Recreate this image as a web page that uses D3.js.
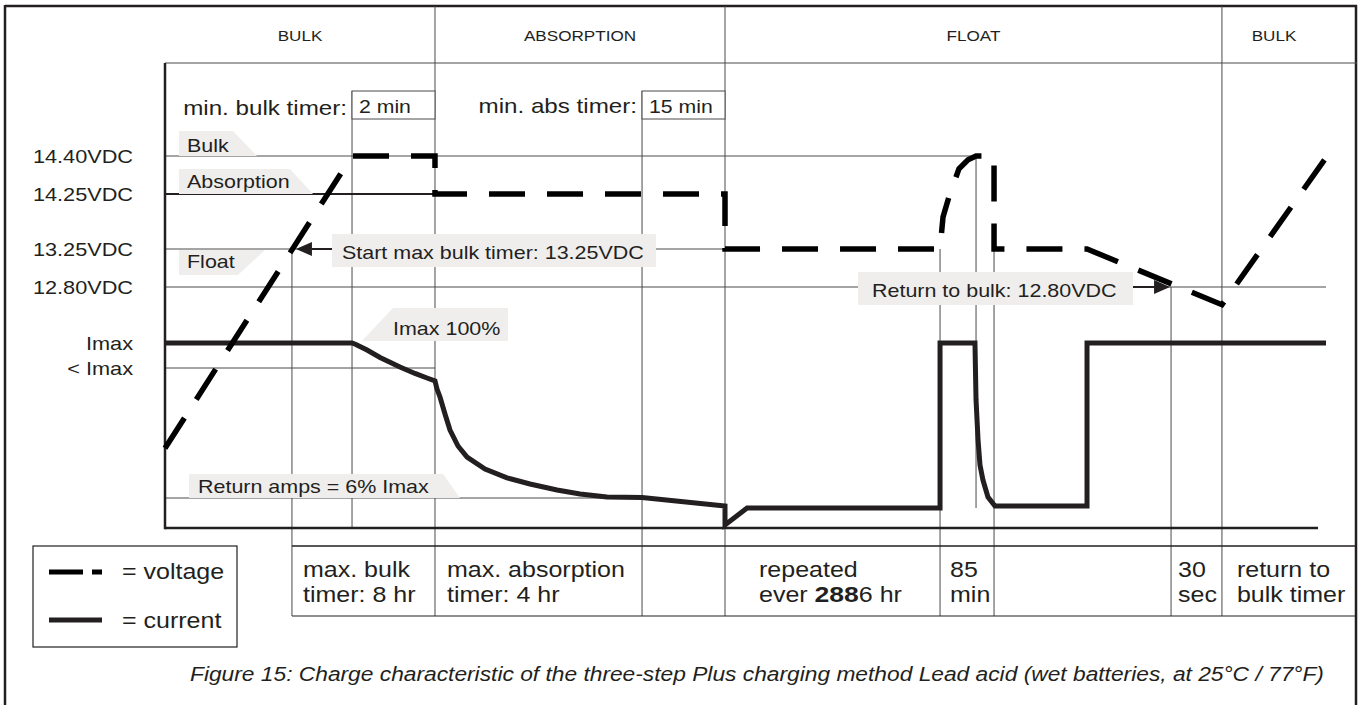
<!DOCTYPE html>
<html>
<head>
<meta charset="utf-8">
<script src="https://cdn.jsdelivr.net/npm/d3@7"></script>
<style>
  html, body { margin: 0; background: #fff; }
  svg { display: block; }
</style>
</head>
<body>
<div id="chart"></div>
<script>
// Schematic time axis: 0..100 across the plot width
const phaseNames = ["BULK", "ABSORPTION", "FLOAT", "BULK"];
const phaseEdges = [0, 22.65, 46.98, 88.67, 97.4];

// Voltage levels (VDC) and labels on the left
const voltLevels = [12.80, 13.25, 14.25, 14.40];
const voltLabels = ["12.80VDC", "13.25VDC", "14.25VDC", "14.40VDC"];

// Current levels (% of Imax)
const currLevels = [0, 6, 85, 100];
const currLabels = ["", "", "< Imax", "Imax"];

// Voltage trace (time, volts)
const voltT = [0, 15.69, 22.65, 22.65, 46.98, 46.98, 65.02, 65.27, 65.77, 66.61, 67.37, 68.04, 69.55, 69.55, 77.35, 88.67, 97.5];
const voltV = [10.89, 14.40, 14.40, 14.25, 14.25, 13.25, 13.25, 13.83, 14.20, 14.35, 14.385, 14.40, 14.40, 13.25, 13.25, 12.59, 14.40];

// Current trace (time, % of Imax)
const currT = [0, 15.69, 16.02, 16.44, 16.95, 18.04, 19.71, 20.97, 21.98, 22.65, 22.82, 23.07, 23.49, 23.91, 24.58, 25.34, 26.85, 28.69, 30.62, 32.89, 34.82, 37.08, 40.02, 46.98, 46.98, 48.83, 65.02, 65.02, 67.95, 68.04, 68.21, 68.37, 68.62, 69.04, 69.63, 77.35, 77.35, 97.4];
const currI = [100, 100, 99.1, 97.6, 95.8, 91.3, 85.6, 81.7, 78.9, 77.1, 72.2, 67.4, 57.0, 47.3, 37.6, 30.9, 23.6, 18.2, 14.5, 10.9, 8.4, 6.6, 6.3, 4.4, 0.6, 4.0, 4.0, 100, 100, 65.6, 41.2, 26.1, 16.9, 6.6, 4.4, 4.4, 100, 100];

// Timer markers on the time axis
const bulkStartT = 10.65, minBulkT = 15.69, minAbsT = 40.02;
const eqStartT = 65.02, eqPeakT = 68.04, eqEndT = 69.55;
const returnT = 84.40, rebulkT = 88.67;

// Bottom table: column edges and cell texts
const tableEdges = [bulkStartT, 22.65, minAbsT, 46.98, eqStartT, eqEndT, returnT, rebulkT, 100];
const tableText = [
  ["max. bulk", "timer: 8 hr"],
  ["max. absorption", "timer: 4 hr"],
  [],
  ["repeated", "ever|288|6 hr"],
  ["85", "min"],
  [],
  ["30", "sec"],
  ["return to", "bulk timer"]
];
const tablePad = [11, 12, 0, 34, 10, 0, 7, 15];

const caption = "Figure 15: Charge characteristic of the three-step Plus charging method Lead acid (wet batteries, at 25°C / 77°F)";

// ---------------------------------------------------------------
const W = 1363, H = 705;
const FONT = "'Liberation Sans', Arial, Helvetica, sans-serif";
const SX = 1.18;           // original figure is stretched horizontally
const INK = "#231f20", GRID = "#4a4a4a", TAB = "#efeeed";

const svg = d3.select("#chart").append("svg")
  .attr("width", W).attr("height", H)
  .attr("viewBox", `0 0 ${W} ${H}`);

const x = d3.scaleLinear().domain([0, 100]).range([165, 1357]);
const yV = d3.scaleLinear().domain(voltLevels).range([287, 249, 194, 156]);
const yI = d3.scaleLinear().domain(currLevels).range([528, 498, 368, 343]);

const gGrid = svg.append("g");
const gTab = svg.append("g");
const gText = svg.append("g");
const gData = svg.append("g");

function line(g, x1, y1, x2, y2, w, c) {
  return g.append("line")
    .attr("x1", x1).attr("y1", y1).attr("x2", x2).attr("y2", y2)
    .attr("stroke", c || GRID).attr("stroke-width", w || 1);
}

function txt(xp, yp, s, size, o = {}) {
  const t = gText.append("text")
    .attr("transform", `translate(${xp},${yp}) scale(${o.sx || SX},1)`)
    .attr("font-family", FONT)
    .attr("font-size", size)
    .attr("fill", o.fill || INK)
    .attr("text-anchor", o.anchor || "start");
  if (o.italic) t.attr("font-style", "italic");
  if (s !== null) t.text(s);
  return t;
}

function poly(pts, fill) {
  gTab.append("polygon")
    .attr("points", pts.map(p => p.join(",")).join(" "))
    .attr("fill", fill || TAB);
}

function arrow(tipX, tipY, fromX) {
  const dir = Math.sign(fromX - tipX);
  const base = tipX + dir * 16;
  line(gTab, fromX, tipY, base, tipY, 2, INK);
  poly([[tipX, tipY], [base, tipY - 7], [base, tipY + 7]], INK);
}

const tableTop = 546, tableBottom = 616, axisBottom = yI(0);

// ---- outer frame and header ----
line(gGrid, 5, 6, 1357, 6, 2.5, INK);
line(gGrid, 5, 5, 5, H, 2.5, INK);
line(gGrid, 1356, 5, 1356, H, 2.5, INK);
line(gGrid, x(0), 63, 1357, 63, 1, GRID);

phaseNames.forEach((p, i) => {
  const cx = (x(phaseEdges[i]) + x(phaseEdges[i + 1])) / 2;
  txt(cx, 41, p, 14.5, { anchor: "middle" });
});

// ---- vertical grid / timer lines ----
[[22.65, 6, tableBottom], [46.98, 6, tableBottom], [rebulkT, 6, tableBottom],
 [minBulkT, 91, axisBottom], [minAbsT, 91, tableBottom],
 [bulkStartT, yV(13.25), tableBottom], [eqStartT, yV(13.25), tableBottom],
 [eqPeakT, yV(14.40), yI(4)], [eqEndT, yV(13.25), tableBottom],
 [returnT, yV(12.80), tableBottom]
].forEach(([t, y1, y2]) => line(gGrid, x(t), y1, x(t), y2, 1, GRID));

// ---- horizontal level lines ----
line(gGrid, x(0), yV(14.40), x(eqPeakT), yV(14.40), 1, GRID);
line(gGrid, x(0), yV(14.25), x(22.65), yV(14.25), 1.8, INK);
line(gGrid, x(0), yV(13.25), x(46.98), yV(13.25), 1, GRID);
line(gGrid, x(0), yV(12.80), x(97.4), yV(12.80), 1, GRID);
line(gGrid, x(0), yI(85), x(22.65), yI(85), 1, GRID);
line(gGrid, x(0), yI(6), x(minAbsT), yI(6), 1, GRID);

// ---- minimum timer boxes ----
[[minBulkT, 22.65, "2 min"], [minAbsT, 46.98, "15 min"]].forEach(([a, b, s]) => {
  gGrid.append("rect")
    .attr("x", x(a)).attr("y", 91).attr("width", x(b) - x(a)).attr("height", 28)
    .attr("fill", "#fff").attr("stroke", GRID).attr("stroke-width", 1);
  txt(x(a) + 7, 113, s, 18);
});
txt(x(minBulkT) - 5, 115, "min. bulk timer:", 20.5, { anchor: "end" });
txt(x(minAbsT) - 5, 113, "min. abs timer:", 20.5, { anchor: "end" });

// ---- axes ----
line(gData, x(0), 63, x(0), axisBottom + 1.2, 2.5, INK);
line(gData, x(0), axisBottom, x(96.73), axisBottom, 2.5, INK);

// ---- left level labels ----
voltLevels.forEach((v, i) => txt(133, yV(v) + 6.5, voltLabels[i], 18.4, { anchor: "end" }));
currLevels.forEach((c, i) => {
  if (currLabels[i]) txt(133, yI(c) + 7, currLabels[i], 18.4, { anchor: "end" });
});

// ---- callout tabs ----
const L = x(0) + 14;
poly([[L, yV(14.40) - 25], [233, yV(14.40) - 25], [257, yV(14.40)], [L, yV(14.40)]]);
txt(L + 8, yV(14.40) - 4, "Bulk", 18.2);
poly([[L, yV(14.25) - 25], [290, yV(14.25) - 25], [313, yV(14.25)], [L, yV(14.25)]]);
txt(L + 8, yV(14.25) - 6, "Absorption", 18.2);
poly([[L, yV(13.25) + 1], [265, yV(13.25) + 1], [238, yV(13.25) + 26], [L, yV(13.25) + 26]]);
txt(L + 8, yV(13.25) + 19, "Float", 18.2);
poly([[393, 308], [508, 308], [508, yI(100) - 2], [362, yI(100) - 2]]);
txt(393, 335, "Imax 100%", 18.2);
poly([[189, yI(6) - 24], [443, yI(6) - 24], [460, yI(6)], [189, yI(6)]]);
txt(198, yI(6) - 5, "Return amps = 6% Imax", 18.2);

poly([[332, 234], [656, 234], [656, 267], [332, 267]]);
txt(342, 259, "Start max bulk timer: 13.25VDC", 18.2);
arrow(x(bulkStartT) + 4, yV(13.25), 332);

poly([[858, 272], [1133, 272], [1133, 305], [858, 305]]);
txt(872, 297, "Return to bulk: 12.80VDC", 18.2);
arrow(x(returnT) - 1, yV(12.80), 1133);

// ---- data traces ----
const currLine = d3.line().x((d, i) => x(currT[i])).y((d, i) => yI(currI[i]));
gData.append("path")
  .attr("d", currLine(currT))
  .attr("fill", "none").attr("stroke", INK)
  .attr("stroke-width", 5).attr("stroke-linejoin", "miter");

const voltLine = d3.line().x((d, i) => x(voltT[i])).y((d, i) => yV(voltV[i]));
gData.append("path")
  .attr("d", voltLine(voltT))
  .attr("fill", "none").attr("stroke", "#000")
  .attr("stroke-width", 5.5).attr("stroke-dasharray", "36,22")
  .attr("stroke-linejoin", "miter");

// ---- bottom table ----
line(gGrid, x(bulkStartT), tableTop, 1357, tableTop, 1.6, INK);
line(gGrid, x(bulkStartT), tableBottom, 1357, tableBottom, 1.2, INK);
tableText.forEach((rows, i) => {
  const left = x(tableEdges[i]) + tablePad[i];
  rows.forEach((r, j) => {
    const yb = 577 + j * 25;
    if (r.includes("|")) {
      const parts = r.split("|");
      const t = txt(left, yb, null, 21.2);
      t.append("tspan").text(parts[0] + " ");
      t.append("tspan").attr("font-weight", "bold").attr("font-size", 22.5).text(parts[1]);
      t.append("tspan").text(parts[2]);
    } else {
      txt(left, yb, r, 21.2);
    }
  });
});

// ---- legend ----
gGrid.append("rect")
  .attr("x", 33).attr("y", 546).attr("width", 204).attr("height", 101)
  .attr("fill", "none").attr("stroke", INK).attr("stroke-width", 1.2);
line(gData, 49, 572, 102, 572, 5, "#000").attr("stroke-dasharray", "34,9,10,99");
txt(122, 579, "= voltage", 21.2);
line(gData, 49, 620, 102, 620, 5, INK);
txt(122, 628, "= current", 21.2);

// ---- caption ----
txt(190, 681, caption, 19.3, { italic: true });
</script>
</body>
</html>
